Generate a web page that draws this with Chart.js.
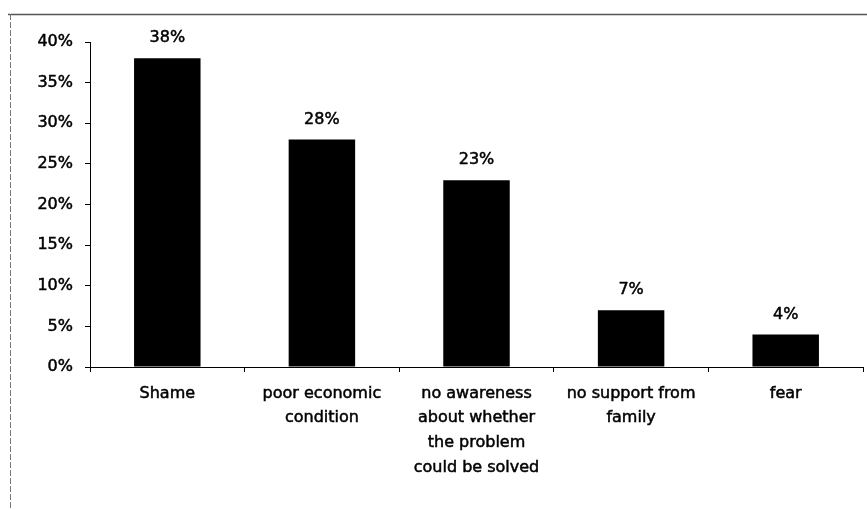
<!DOCTYPE html>
<html>
<head>
<meta charset="utf-8">
<script src="https://cdn.jsdelivr.net/npm/chart.js@4/dist/chart.umd.min.js"></script>
<style>
  html, body { margin: 0; padding: 0; background: #fff; }
  #wrap { width: 867px; height: 510px; }
</style>
</head>
<body>
<div id="wrap"><canvas id="myChart"></canvas></div>
<script>
// categories and values
const categories = [
    'Shame',
    ['poor economic', 'condition'],
    ['no awareness', 'about whether', 'the problem', 'could be solved'],
    ['no support from', 'family'],
    'fear'
];
const percentValues = [38, 28, 23, 7, 4];
const yTicks = [0, 5, 10, 15, 20, 25, 30, 35, 40];

const font = { family: '"DejaVu Sans", Arial, sans-serif', size: 16 };

// draws the value above each bar and the scanned page frame
const extras = {
    id: 'extras',
    afterDatasetsDraw(chart) {
        const c = chart.ctx;
        const meta = chart.getDatasetMeta(0);
        c.save();
        c.fillStyle = '#000';
        c.strokeStyle = '#000';
        c.lineWidth = 0.5;
        c.font = font.size + 'px ' + font.family;
        c.textAlign = 'center';
        c.textBaseline = 'bottom';
        meta.data.forEach((bar, i) => {
            const txt = percentValues[i] + '%';
            c.fillText(txt, bar.x, bar.y - 12);
            c.strokeText(txt, bar.x, bar.y - 12);
        });
        // frame lines
        c.strokeStyle = '#555';
        c.lineWidth = 1.5;
        c.beginPath();
        c.moveTo(8, 14.5);
        c.lineTo(867, 14.5);
        c.stroke();
        c.strokeStyle = '#777';
        c.lineWidth = 1;
        c.setLineDash([6, 2]);
        c.beginPath();
        c.moveTo(10.5, 14);
        c.lineTo(10.5, 510);
        c.stroke();
        c.restore();
    }
};

const ctx = document.getElementById('myChart').getContext('2d');
const chart = new Chart(ctx, {
    type: 'bar',
    data: {
        labels: categories,
        datasets: [{
            data: percentValues,
            backgroundColor: '#000',
            borderWidth: 0,
            barPercentage: 0.43,
            categoryPercentage: 1
        }]
    },
    options: {
        responsive: true,
        maintainAspectRatio: false,
        animation: false,
        layout: { padding: { top: 42, right: 4, left: 0, bottom: 0 } },
        plugins: { legend: { display: false }, tooltip: { enabled: false } },
        scales: {
            x: {
                grid: { drawOnChartArea: false, drawTicks: true, tickLength: 5, tickColor: '#000', offset: true },
                border: { color: '#000', width: 1 },
                ticks: {
                    color: '#000', font: { ...font, lineHeight: 1.55 }, maxRotation: 0, autoSkip: false, padding: 9,
                    textStrokeColor: '#000', textStrokeWidth: 0.5
                },
                afterFit(scale) { scale.height = 143; }
            },
            y: {
                min: 0,
                max: 40,
                afterBuildTicks(scale) { scale.ticks = yTicks.map(v => ({ value: v })); },
                grid: { drawOnChartArea: false, drawTicks: true, tickLength: 5, tickColor: '#000' },
                border: { color: '#000', width: 1 },
                ticks: {
                    color: '#000', font: font, padding: 12, callback: v => v + '%',
                    textStrokeColor: '#000', textStrokeWidth: 0.5
                },
                afterFit(scale) { scale.width = 90; }
            }
        }
    },
    plugins: [extras]
});
</script>
</body>
</html>
